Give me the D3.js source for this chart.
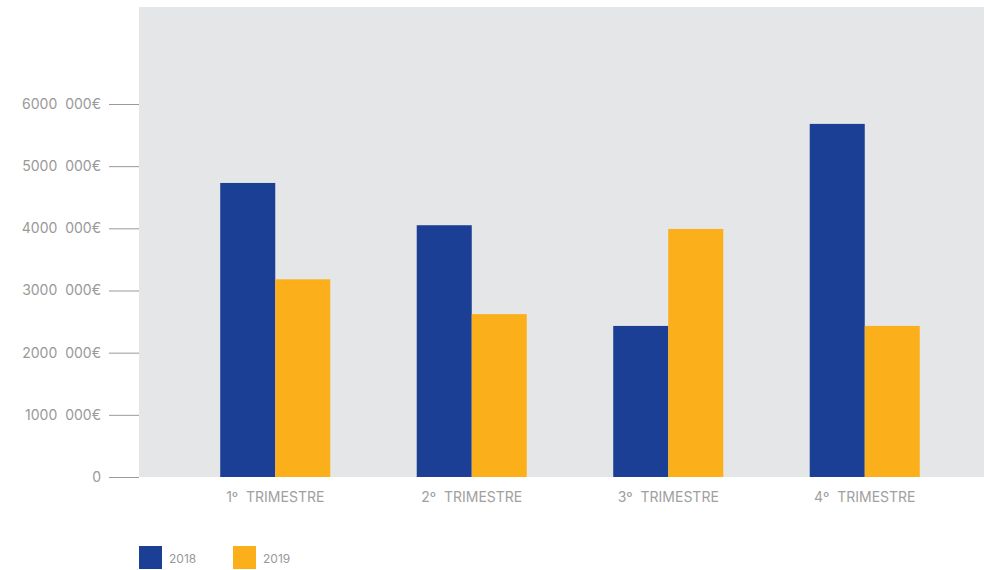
<!DOCTYPE html>
<html>
<head>
<meta charset="utf-8">
<script src="https://cdn.jsdelivr.net/npm/d3@7"></script>
<style>
  html, body { margin: 0; padding: 0; background: #ffffff; }
  svg { display: block; }
  text { font-family: Inter, "Open Sans", sans-serif; white-space: pre; }
</style>
</head>
<body>
<svg id="chart" width="984" height="570"></svg>
<script>
// Quarterly revenue, in euros
const categories = ["1º  TRIMESTRE", "2º  TRIMESTRE", "3º  TRIMESTRE", "4º  TRIMESTRE"];
const seriesNames = ["2018", "2019"];
const values2018 = [4730000, 4050000, 2430000, 5680000];
const values2019 = [3180000, 2620000, 3990000, 2430000];
const yTicks = [0, 1000000, 2000000, 3000000, 4000000, 5000000, 6000000];
const yTickLabels = ["0", "1000  000€", "2000  000€", "3000  000€", "4000  000€", "5000  000€", "6000  000€"];

const colors = { "2018": "#1b3f94", "2019": "#fbb01b" };
const series = [values2018, values2019];

const svg = d3.select("#chart");

const plot = { left: 139, right: 984, top: 7, bottom: 477 };

// plot background
svg.append("rect")
  .attr("x", plot.left).attr("y", plot.top)
  .attr("width", plot.right - plot.left)
  .attr("height", plot.bottom - plot.top)
  .attr("fill", "#e5e6e8");

const y = d3.scaleLinear()
  .domain([0, 6000000])
  .range([plot.bottom, 104]);

const x0 = d3.scaleBand()
  .domain(categories)
  .range([177, 963])
  .paddingInner(0.44)
  .paddingOuter(0.22);

const x1 = d3.scaleBand()
  .domain(seriesNames)
  .range([0, x0.bandwidth()]);

// y axis: short tick lines with labels to the left
const yAxis = d3.axisLeft(y)
  .tickValues(yTicks)
  .tickSize(30)
  .tickPadding(8)
  .tickFormat((d, i) => yTickLabels[i]);

const gy = svg.append("g")
  .attr("transform", `translate(${plot.left},0)`)
  .call(yAxis);
gy.select(".domain").remove();
gy.selectAll(".tick line").attr("stroke", "#9a9a9a").attr("stroke-width", 1);
gy.selectAll(".tick text")
  .attr("fill", "#999999")
  .style("font-size", "14px");

// bars
const groups = svg.append("g")
  .selectAll("g")
  .data(categories)
  .join("g")
  .attr("transform", d => `translate(${x0(d)},0)`);

groups.selectAll("rect")
  .data((d, i) => seriesNames.map((s, k) => ({ key: s, value: series[k][i] })))
  .join("rect")
  .attr("x", d => x1(d.key))
  .attr("y", d => y(d.value))
  .attr("width", x1.bandwidth())
  .attr("height", d => y(0) - y(d.value))
  .attr("fill", d => colors[d.key]);

// x axis labels
const xAxis = d3.axisBottom(x0).tickSize(0).tickPadding(15);
const gx = svg.append("g")
  .attr("transform", `translate(0,${plot.bottom})`)
  .call(xAxis);
gx.select(".domain").remove();
gx.selectAll(".tick text")
  .attr("fill", "#a0a0a0")
  .style("font-size", "14px");

// legend
const legend = svg.append("g");
const legendX = [139, 233];
seriesNames.forEach((s, i) => {
  legend.append("rect")
    .attr("x", legendX[i]).attr("y", 546)
    .attr("width", 23).attr("height", 23)
    .attr("fill", colors[s]);
  legend.append("text")
    .attr("x", legendX[i] + 30).attr("y", 563)
    .attr("fill", "#999999")
    .style("font-size", "12px")
    .text(s);
});
</script>
</body>
</html>
